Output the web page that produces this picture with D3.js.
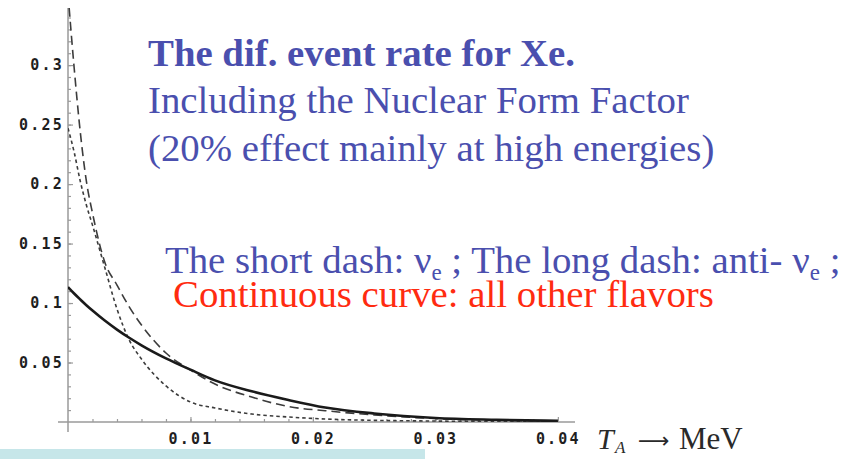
<!DOCTYPE html>
<html>
<head>
<meta charset="utf-8">
<script src="https://cdn.jsdelivr.net/npm/d3@7"></script>
<style>
  html, body { margin: 0; padding: 0; background: #ffffff; }
  svg { display: block; }
</style>
</head>
<body>
<svg id="chart" width="854" height="459"></svg>
<script>
// Recoil energy T_A (MeV)
const energies = [0, 0.0005, 0.001, 0.0015, 0.002, 0.003, 0.004, 0.005, 0.006, 0.008,
                  0.010, 0.012, 0.015, 0.018, 0.021, 0.025, 0.03, 0.035, 0.04];
// Differential event rate, all other flavors (continuous curve)
const otherFlavors = [0.1134, 0.1080, 0.1030, 0.0982, 0.0937, 0.0853, 0.0777, 0.0708, 0.0645, 0.0535,
                      0.0440, 0.0350, 0.0258, 0.0185, 0.0122, 0.0072, 0.0034, 0.0019, 0.0010];
// anti-nu_e (long dash)
const antiNuE = [0.36, 0.298, 0.244, 0.2025, 0.1756, 0.1345, 0.1151, 0.0968, 0.0815, 0.058,
                 0.0437, 0.0319, 0.021, 0.013, 0.0095, 0.0059, 0.0029, 0.0014, 0.0006];
// nu_e (short dash)
const nuE = [0.247, 0.227, 0.2025, 0.1824, 0.1655, 0.130, 0.095, 0.0689, 0.0529, 0.0303,
             0.0168, 0.0118, 0.0067, 0.0042, 0.0025, 0.0014, 0.0008, 0.0004, 0.0003];

const yMajorTicks = [0.05, 0.1, 0.15, 0.2, 0.25, 0.3];
const yTickLabels = ["0.05", "0.1", "0.15", "0.2", "0.25", "0.3"];
const xMajorTicks = [0.01, 0.02, 0.03, 0.04];
const xTickLabels = ["0.01", "0.02", "0.03", "0.04"];

const svg = d3.select("#chart");

const x = d3.scaleLinear().domain([0, 0.0414]).range([68, 575]);
const y = d3.scaleLinear().domain([0, 0.348]).range([422, 8]);

// light band along the bottom edge
svg.append("rect")
  .attr("x", 0).attr("y", 449).attr("width", 425).attr("height", 10)
  .attr("fill", "#c6e6e9");

const axisColor = "#9a9a9a";
const tickFont = "'DejaVu Sans Mono', monospace";

// minor ticks
const yMinor = d3.range(0.01, 0.345, 0.01);
const xMinor = d3.range(0.002, 0.0412, 0.002);

const gy = svg.append("g").attr("transform", `translate(${x(0)},0)`);
gy.call(d3.axisLeft(y).tickValues(yMinor).tickSize(-3).tickFormat(""));
gy.select(".domain").remove();
const gyMaj = svg.append("g").attr("transform", `translate(${x(0)},0)`);
gyMaj.call(d3.axisLeft(y).tickValues(yMajorTicks).tickSize(-5).tickPadding(4)
  .tickFormat((d, i) => yTickLabels[i]));
gyMaj.select(".domain").remove();

const gx = svg.append("g").attr("transform", `translate(0,${y(0)})`);
gx.call(d3.axisBottom(x).tickValues(xMinor).tickSize(-3).tickFormat(""));
gx.select(".domain").remove();
const gxMaj = svg.append("g").attr("transform", `translate(0,${y(0)})`);
gxMaj.call(d3.axisBottom(x).tickValues(xMajorTicks).tickSize(-5).tickPadding(11)
  .tickFormat((d, i) => xTickLabels[i]));
gxMaj.select(".domain").remove();

svg.selectAll(".tick line").attr("stroke", axisColor).attr("stroke-width", 1.2);
svg.selectAll(".tick text")
  .attr("fill", "#1e1e1e")
  .style("font-family", tickFont)
  .style("font-weight", "bold")
  .style("font-size", "15px")
  .style("letter-spacing", "2.2px");

// axis lines
svg.append("line")
  .attr("x1", x(0) - 10).attr("x2", x(0.0414))
  .attr("y1", y(0)).attr("y2", y(0))
  .attr("stroke", axisColor).attr("stroke-width", 1.5);
svg.append("line")
  .attr("x1", x(0)).attr("x2", x(0))
  .attr("y1", y(0.348)).attr("y2", y(0) + 10)
  .attr("stroke", axisColor).attr("stroke-width", 1.5);

// plot area clip
svg.append("clipPath").attr("id", "plot-clip")
  .append("rect")
  .attr("x", x(0)).attr("y", y(0.348))
  .attr("width", x(0.0414) - x(0)).attr("height", y(0) - y(0.348));

const line = d3.line()
  .x((d, i) => x(energies[i]))
  .y(d => y(d))
  .curve(d3.curveMonotoneX);

const curves = svg.append("g").attr("clip-path", "url(#plot-clip)");

curves.append("path").datum(nuE)
  .attr("d", line).attr("fill", "none")
  .attr("stroke", "#3c3c3c").attr("stroke-width", 1.6)
  .attr("stroke-dasharray", "3.5,3");

curves.append("path").datum(antiNuE)
  .attr("d", line).attr("fill", "none")
  .attr("stroke", "#3c3c3c").attr("stroke-width", 1.6)
  .attr("stroke-dasharray", "9,5");

curves.append("path").datum(otherFlavors)
  .attr("d", line).attr("fill", "none")
  .attr("stroke", "#1a1a1a").attr("stroke-width", 2.6);

// axis title
const serif = "'Liberation Serif', 'Times New Roman', serif";
const axTitle = svg.append("g")
  .attr("fill", "#2a2a2a")
  .style("font-family", serif);
axTitle.append("text").attr("x", 597).attr("y", 449)
  .style("font-style", "italic").style("font-size", "30px").text("T");
axTitle.append("text").attr("x", 615).attr("y", 453)
  .style("font-style", "italic").style("font-size", "17px").text("A");
axTitle.append("text").attr("x", 638).attr("y", 448)
  .style("font-family", "'DejaVu Sans', sans-serif")
  .style("font-size", "22px").text("\u27f6");
axTitle.append("text").attr("x", 679).attr("y", 449)
  .style("font-size", "31px").text("MeV");

// annotations
const blue = "#4a4fae";
const red = "#ff2b10";
const fs = "38.8px";

svg.append("text").attr("x", 148).attr("y", 66)
  .attr("fill", blue).style("font-family", serif)
  .style("font-weight", "bold").style("font-size", fs)
  .text("The dif. event rate for Xe.");
svg.append("text").attr("x", 148).attr("y", 113)
  .attr("fill", blue).style("font-family", serif).style("font-size", fs)
  .text("Including the Nuclear Form Factor");
svg.append("text").attr("x", 148).attr("y", 161)
  .attr("fill", blue).style("font-family", serif).style("font-size", fs)
  .text("(20% effect mainly at high energies)");

const legend = svg.append("text").attr("x", 165).attr("y", 273)
  .attr("fill", blue).style("font-family", serif).style("font-size", fs);
legend.append("tspan").text("The short dash: \u03bd");
legend.append("tspan").attr("dy", 7).style("font-size", "23px").text("e");
legend.append("tspan").attr("dy", -7).text(" ; The long dash: anti- \u03bd");
legend.append("tspan").attr("dy", 7).style("font-size", "23px").text("e");
legend.append("tspan").attr("dy", -7).text(" ;");

svg.append("text").attr("x", 173).attr("y", 307)
  .attr("fill", red).style("font-family", serif).style("font-size", fs)
  .text("Continuous curve: all other flavors");
</script>
</body>
</html>
